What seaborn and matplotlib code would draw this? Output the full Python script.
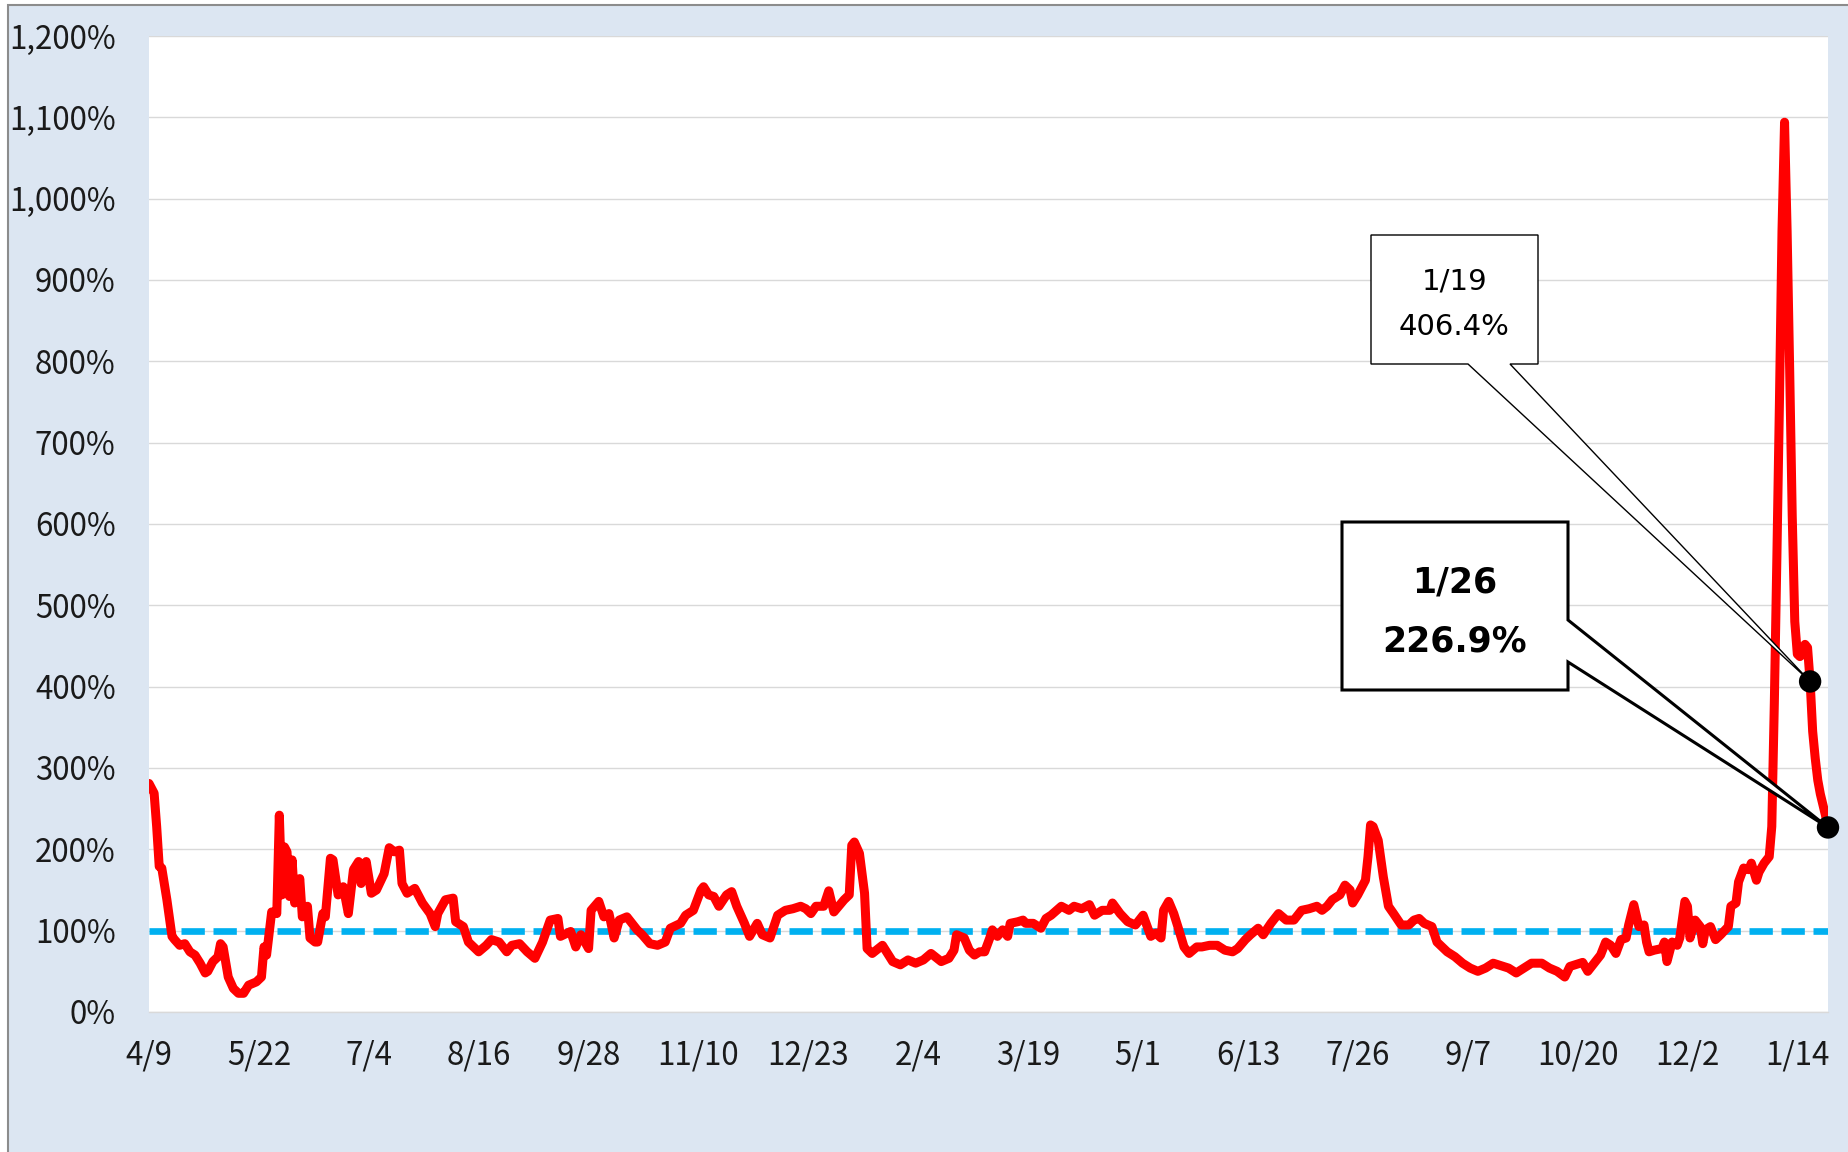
import matplotlib
matplotlib.use('Agg')
import matplotlib.pyplot as plt
import matplotlib.dates as mdates
from matplotlib.patches import Polygon, Rectangle
import pandas as pd
import seaborn as sns

# values: days after 2020-04-09 and ratio in %
start_date = '2020-04-09'
day_offset = [
    0, 2, 3, 4, 5, 7, 9, 10, 12, 14, 16, 18, 20, 22, 23, 25, 27, 28, 29, 31,
    33, 35, 37, 39, 42, 44, 45, 46, 48, 50, 51, 52, 53, 54, 55, 56, 57, 59, 60, 62,
    63, 65, 66, 68, 69, 71, 72, 74, 76, 78, 80, 82, 83, 85, 87, 89, 92, 94, 96, 98,
    99, 101, 104, 107, 110, 112, 113, 116, 119, 120, 123, 125, 129, 132, 134, 137, 140, 142, 145, 148,
    151, 154, 157, 160, 161, 165, 167, 169, 172, 173, 176, 178, 180, 182, 184, 187, 191, 193, 196, 199,
    202, 204, 208, 210, 213, 216, 217, 219, 221, 223, 226, 228, 230, 233, 235, 238, 240, 243, 246, 249,
    252, 255, 257, 259, 261, 264, 266, 268, 272, 274, 275, 276, 278, 280, 281, 283, 287, 289, 291, 294,
    297, 300, 303, 306, 310, 313, 315, 316, 319, 321, 323, 325, 327, 329, 330, 332, 334, 336, 337, 340,
    342, 343, 346, 349, 351, 353, 357, 360, 362, 365, 368, 370, 373, 376, 377, 380, 383, 386, 389, 392,
    394, 396, 397, 399, 401, 403, 405, 407, 410, 412, 415, 418, 421, 424, 426, 429, 431, 434, 436, 439,
    442, 445, 448, 451, 454, 457, 459, 461, 463, 466, 468, 470, 471, 473, 476, 477, 478, 479, 481, 483,
    485, 487, 490, 493, 495, 497, 499, 502, 504, 508, 511, 514, 517, 520, 523, 526, 529, 532, 535, 538,
    541, 545, 548, 551, 554, 556, 558, 561, 563, 566, 568, 570, 572, 574, 576, 578, 579, 581, 583, 585,
    586, 587, 589, 592, 593, 594, 596, 598, 599, 601, 602, 603, 605, 607, 608, 609, 611, 613, 615, 618,
    619, 621, 622, 624, 626, 627, 629, 630, 632, 634, 635, 636, 637, 638, 639, 640, 641, 642, 643, 644,
    645, 646, 647, 648, 649, 650, 651, 652, 653, 654, 655, 656, 657,
]
ratio_pct = [
    281, 269, 228, 179, 177, 138, 93, 89, 82, 84, 74, 70, 60, 48, 50, 62, 68, 84, 80, 43,
    29, 23, 23, 33, 37, 43, 80, 70, 123, 121, 242, 144, 203, 197, 142, 187, 134, 164, 117, 130,
    91, 86, 86, 121, 117, 189, 187, 144, 154, 121, 175, 185, 158, 185, 146, 150, 170, 202, 197, 199,
    158, 146, 152, 134, 121, 105, 121, 138, 140, 111, 105, 86, 74, 82, 89, 86, 74, 82, 84, 74,
    66, 86, 113, 115, 93, 99, 80, 95, 78, 125, 136, 117, 121, 91, 113, 117, 101, 95, 84, 82,
    86, 103, 109, 119, 125, 150, 154, 144, 142, 130, 144, 148, 130, 109, 93, 109, 95, 91, 119, 125,
    127, 130, 127, 121, 130, 130, 149, 123, 138, 144, 205, 209, 195, 146, 78, 72, 82, 72, 62, 58,
    64, 60, 64, 72, 62, 66, 76, 95, 91, 76, 70, 74, 74, 91, 101, 93, 101, 93, 109, 111,
    113, 109, 109, 103, 115, 119, 130, 125, 130, 127, 132, 119, 125, 125, 134, 121, 111, 107, 119, 93,
    97, 91, 125, 136, 121, 101, 80, 72, 80, 80, 82, 82, 76, 74, 78, 89, 95, 103, 95, 109,
    121, 113, 113, 125, 127, 130, 125, 130, 138, 144, 156, 150, 134, 144, 162, 191, 230, 228, 211, 166,
    130, 121, 107, 107, 113, 115, 109, 105, 86, 74, 68, 60, 54, 50, 54, 60, 57, 54, 48, 54,
    60, 60, 54, 50, 43, 56, 58, 61, 50, 62, 70, 86, 82, 72, 89, 91, 107, 132, 105, 107,
    86, 74, 76, 78, 86, 62, 86, 82, 91, 136, 130, 91, 113, 105, 84, 101, 105, 89, 95, 105,
    130, 134, 160, 177, 175, 183, 162, 172, 183, 191, 228, 380, 560, 750, 960, 1094, 960, 790, 610, 480,
    440, 437, 440, 452, 448, 406.4, 345, 312, 285, 268, 255, 242, 226.9,
]
tick_labels = ['4/9', '5/22', '7/4', '8/16', '9/28', '11/10', '12/23', '2/4',
               '3/19', '5/1', '6/13', '7/26', '9/7', '10/20', '12/2', '1/14']
tick_step_days = 43
baseline_pct = 100
callout_days = [650, 657]

sns.set_theme(style='white')
plt.rcParams['font.family'] = ['Noto Sans CJK JP', 'DejaVu Sans']

dates = pd.Timestamp(start_date) + pd.to_timedelta(day_offset, unit='D')
df = pd.DataFrame({'date': dates, 'ratio': ratio_pct})
tick_dates = [pd.Timestamp(start_date) + pd.Timedelta(days=tick_step_days * i)
              for i in range(len(tick_labels))]

W, H = 1849, 1152
fig = plt.figure(figsize=(W / 100, H / 100), dpi=100, facecolor='white')
fig.add_artist(Rectangle((8 / W, -0.05), 1.1, (H - 5) / H + 0.05,
                         transform=fig.transFigure, facecolor='#DCE6F2',
                         edgecolor='#8C8C8C', lw=1.5, zorder=-1))
ax = fig.add_axes([149 / W, 1 - 1012 / H, 1679 / W, 976 / H])
ax.set_facecolor('white')

ax.axhline(baseline_pct, color='#00B0F0', lw=4.8, dashes=(3.5, 1.3), zorder=2.5)
n_before = len(ax.lines)
sns.lineplot(data=df, x='date', y='ratio', ax=ax, color='#FF0000', zorder=3,
             linewidth=6.5)
for ln in ax.lines[n_before:]:
    ln.set_linewidth(6.5)
    ln.set_solid_joinstyle('round')
    ln.set_solid_capstyle('round')

ax.set_xlim(dates[0], dates[-1])
ax.set_ylim(0, 1200)
ax.set_yticks(range(0, 1201, 100))
ax.yaxis.set_major_formatter(lambda v, p: f'{int(v):,}%')
ax.set_xticks(tick_dates)
ax.set_xticklabels(tick_labels)
ax.yaxis.grid(True, color='#D9D9D9', lw=1.0)
ax.set_axisbelow(True)
for s in ['top', 'right', 'left']:
    ax.spines[s].set_visible(False)
ax.spines['bottom'].set_color('#D9D9D9')
ax.spines['bottom'].set_linewidth(1.0)
ax.tick_params(axis='y', length=0, labelsize=22.5, pad=24, labelcolor='#1A1A1A')
ax.tick_params(axis='x', length=0, labelsize=22.5, pad=20, labelcolor='#1A1A1A')

# callout points
pts = df[df['date'].isin([pd.Timestamp(start_date) + pd.Timedelta(days=d) for d in callout_days])]
sns.scatterplot(data=pts, x='date', y='ratio', ax=ax, s=260, color='black',
                edgecolor='none', zorder=6, legend=False, clip_on=False)
ax.set_xlabel('')
ax.set_ylabel('')


def fig_px(x, y):
    return (x / W, 1 - y / H)


def callout(row, box, base, side, lw, size, weight, baselines):
    x0, y0, x1, y1 = box
    tip_disp = ax.transData.transform((mdates.date2num(row['date']), row['ratio']))
    tip = fig.transFigure.inverted().transform(tip_disp)
    if side == 'bottom':
        verts = [fig_px(x0, y0), fig_px(x1, y0), fig_px(x1, y1), fig_px(base[1], y1),
                 tip, fig_px(base[0], y1), fig_px(x0, y1)]
    else:
        verts = [fig_px(x0, y0), fig_px(x1, y0), fig_px(x1, base[0]), tip,
                 fig_px(x1, base[1]), fig_px(x1, y1), fig_px(x0, y1)]
    fig.add_artist(Polygon(verts, closed=True, transform=fig.transFigure,
                           facecolor='white', edgecolor='none', zorder=2))
    fig.add_artist(Polygon(verts, closed=True, transform=fig.transFigure,
                           facecolor='none', edgecolor='black', lw=lw,
                           joinstyle='miter', zorder=5))
    d = row['date']
    lines = [f'{d.month}/{d.day}', f"{row['ratio']:.1f}%"]
    cx = (x0 + x1) / 2
    for txt, yb in zip(lines, baselines):
        fig.text(cx / W, 1 - yb / H, txt, ha='center', va='baseline',
                 fontsize=size, fontweight=weight, family='DejaVu Sans',
                 color='black', zorder=7)


ax.set_zorder(1)
callout(pts.iloc[0], (1371, 235, 1538, 364), (1468, 1510), 'bottom', 1.0, 21,
        'normal', (290, 335))
callout(pts.iloc[1], (1342, 522, 1568, 690), (620, 662), 'right', 2.2, 25,
        'bold', (593, 652))

fig.savefig('out.png', dpi=100)
